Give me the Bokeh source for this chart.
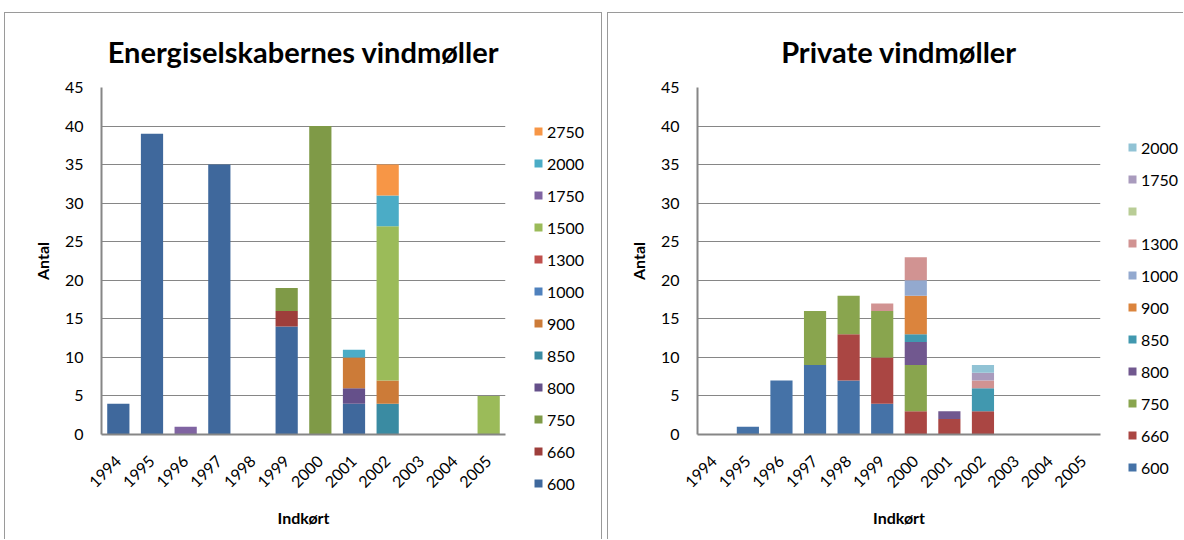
import math
from bokeh.plotting import figure
from bokeh.layouts import row, column, Spacer
from bokeh.models import Range1d, FactorRange, SingleIntervalTicker, Legend, LegendItem
from bokeh.core.properties import value
from bokeh.embed import file_html
from bokeh.resources import INLINE

years = ["1994", "1995", "1996", "1997", "1998", "1999", "2000", "2001", "2002", "2003", "2004", "2005"]

# Energiselskabernes vindmøller (kW classes)
left_sizes = ["600", "660", "750", "800", "850", "900", "1000", "1300", "1500", "1750", "2000", "2750"]
left_600 = [4, 39, 0, 35, 0, 14, 0, 4, 0, 0, 0, 0]
left_660 = [0, 0, 0, 0, 0, 2, 0, 0, 0, 0, 0, 0]
left_750 = [0, 0, 0, 0, 0, 3, 40, 0, 0, 0, 0, 0]
left_800 = [0, 0, 0, 0, 0, 0, 0, 2, 0, 0, 0, 0]
left_850 = [0, 0, 0, 0, 0, 0, 0, 0, 4, 0, 0, 0]
left_900 = [0, 0, 0, 0, 0, 0, 0, 4, 3, 0, 0, 0]
left_1000 = [0, 0, 0, 0, 0, 0, 0, 0, 0, 0, 0, 0]
left_1300 = [0, 0, 0, 0, 0, 0, 0, 0, 0, 0, 0, 0]
left_1500 = [0, 0, 0, 0, 0, 0, 0, 0, 20, 0, 0, 5]
left_1750 = [0, 0, 1, 0, 0, 0, 0, 0, 0, 0, 0, 0]
left_2000 = [0, 0, 0, 0, 0, 0, 0, 1, 4, 0, 0, 0]
left_2750 = [0, 0, 0, 0, 0, 0, 0, 0, 4, 0, 0, 0]
left_colors = ["#3F689C", "#9E3E3B", "#7F9A47", "#65508A", "#3A8BA2", "#CC7B38",
               "#4F81BD", "#C0504D", "#9BBB59", "#8064A2", "#4BACC6", "#F79646"]
left_labels = ["600", "660", "750", "800", "850", "900", "1000", "1300", "1500", "1750", "2000", "2750"]

# Private vindmøller
right_sizes = ["600", "660", "750", "800", "850", "900", "1000", "1300", "1500", "1750", "2000"]
right_600 = [0, 1, 7, 9, 7, 4, 0, 0, 0, 0, 0, 0]
right_660 = [0, 0, 0, 0, 6, 6, 3, 2, 3, 0, 0, 0]
right_750 = [0, 0, 0, 7, 5, 6, 6, 0, 0, 0, 0, 0]
right_800 = [0, 0, 0, 0, 0, 0, 3, 1, 0, 0, 0, 0]
right_850 = [0, 0, 0, 0, 0, 0, 1, 0, 3, 0, 0, 0]
right_900 = [0, 0, 0, 0, 0, 0, 5, 0, 0, 0, 0, 0]
right_1000 = [0, 0, 0, 0, 0, 0, 2, 0, 0, 0, 0, 0]
right_1300 = [0, 0, 0, 0, 0, 1, 3, 0, 1, 0, 0, 0]
right_1500 = [0, 0, 0, 0, 0, 0, 0, 0, 0, 0, 0, 0]
right_1750 = [0, 0, 0, 0, 0, 0, 0, 0, 1, 0, 0, 0]
right_2000 = [0, 0, 0, 0, 0, 0, 0, 0, 1, 0, 0, 0]
right_colors = ["#4572A7", "#AA4643", "#89A54E", "#71588F", "#4198AF", "#DB843D",
                "#93A9CF", "#D19392", "#B9CD96", "#A99BBD", "#91C3D5"]
right_labels = ["600", "660", "750", "800", "850", "900", "1000", "1300", "", "1750", "2000"]

FONT = "Lato"
GRID = "#868686"
HEIGHT = 526


def no_frame_align(fig):
    if "frame_align" in fig.properties():
        fig.frame_align = False


def make_chart(title, sizes, series, colors, width, mb_left):
    data = {"year": years}
    for s, vals in zip(sizes, series):
        data[s] = vals
    p = figure(x_range=FactorRange(*years), y_range=Range1d(0, 45),
               width=width, height=HEIGHT, output_backend="svg", toolbar_location=None,
               min_border_left=mb_left, min_border_right=10,
               min_border_top=73, min_border_bottom=105)
    no_frame_align(p)
    p.vbar_stack(sizes, x="year", width=0.66, color=colors, line_color=None, source=data)

    p.title.text = title
    p.title.align = "center"
    p.title.text_font = FONT
    p.title.text_font_size = "29px"
    p.title.text_font_style = "bold"
    p.title.text_color = "black"
    p.title.standoff = 37

    p.outline_line_color = None
    p.xgrid.grid_line_color = None
    p.ygrid.grid_line_color = GRID
    p.ygrid.grid_line_width = 1

    p.yaxis.ticker = SingleIntervalTicker(interval=5)
    p.yaxis.axis_label = "Antal"
    p.xaxis.axis_label = "Indkørt"
    for ax in (p.xaxis, p.yaxis):
        ax.axis_line_color = GRID
        ax.axis_line_width = 2
        ax.major_tick_line_color = None
        ax.minor_tick_line_color = None
        ax.major_tick_out = 0
        ax.major_tick_in = 0
        ax.major_label_text_font = FONT
        ax.major_label_text_font_size = "16px"
        ax.major_label_text_color = "black"
        ax.axis_label_text_font = FONT
        ax.axis_label_text_font_size = "16px"
        ax.axis_label_text_font_style = "bold"
        ax.axis_label_text_color = "black"
    p.yaxis.major_label_standoff = 14
    p.yaxis.axis_label_standoff = 10
    p.xaxis.major_label_orientation = math.pi / 4
    p.xaxis.major_label_standoff = 24
    p.xaxis.axis_label_standoff = 12
    return p, data


def make_legend(sizes, data, colors, labels, width, loc):
    q = figure(x_range=FactorRange(*years), y_range=Range1d(0, 45),
               width=width, height=HEIGHT, output_backend="svg", toolbar_location=None,
               min_border=0, min_border_left=0, min_border_right=0,
               min_border_top=0, min_border_bottom=0,
               x_axis_location=None, y_axis_location=None)
    no_frame_align(q)
    q.outline_line_color = None
    q.grid.visible = False
    rs = q.vbar_stack(sizes, x="year", width=0.66, color=colors, line_color=None, source=data)
    for r in rs:
        r.visible = False
    items = [LegendItem(label=value(lab), renderers=[r]) for lab, r in zip(labels, rs)]
    items = items[::-1]
    leg = Legend(items=items, location=loc, orientation="vertical",
                 glyph_width=10, glyph_height=10, label_height=20, spacing=12,
                 padding=0, margin=0, label_standoff=4,
                 label_text_font=FONT, label_text_font_size="16px", label_text_color="black",
                 inactive_fill_alpha=0,
                 border_line_color=None, background_fill_alpha=0)
    q.add_layout(leg, "center")
    return q


left, left_data = make_chart("Energiselskabernes vindmøller", left_sizes,
                             [left_600, left_660, left_750, left_800, left_850, left_900, left_1000,
                              left_1300, left_1500, left_1750, left_2000, left_2750],
                             left_colors, 510, 96)
left_leg = make_legend(left_sizes, left_data, left_colors, left_labels, 86, (18, 46))

right, right_data = make_chart("Private vindmøller", right_sizes,
                               [right_600, right_660, right_750, right_800, right_850, right_900,
                                right_1000, right_1300, right_1500, right_1750, right_2000],
                               right_colors, 502, 89)
right_leg = make_legend(right_sizes, right_data, right_colors, right_labels, 73, (17, 62))

left_box = row(left, left_leg, styles={"border": "1px solid #9a9a9a", "border-bottom": "none"})
right_box = row(right, right_leg, styles={"border": "1px solid #9a9a9a", "border-bottom": "none",
                                          "border-right": "none"})

layout = column(Spacer(height=12),
                row(Spacer(width=4), left_box, Spacer(width=5), right_box))
open("out.html", "w").write(file_html(layout, INLINE))
